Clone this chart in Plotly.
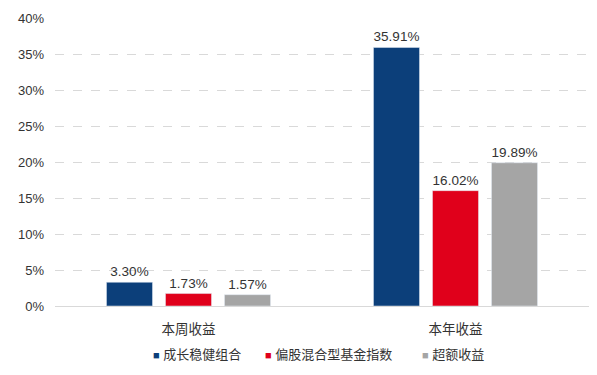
import plotly.graph_objects as go

categories = ["本周收益", "本年收益"]
series_names = ["成长稳健组合", "偏股混合型基金指数", "超额收益"]
series_values = [
    [3.30, 35.91],
    [1.73, 16.02],
    [1.57, 19.89],
]
colors = ["#0C3F7A", "#E0001B", "#A5A5A5"]
tick_vals = [0, 5, 10, 15, 20, 25, 30, 35, 40]
tick_text = [f"{v}%" for v in tick_vals]

FONT = "Liberation Sans, Noto Sans CJK SC, sans-serif"

fig = go.Figure()
for name, vals, c in zip(series_names, series_values, colors):
    fig.add_trace(go.Bar(
        name=name, x=categories, y=vals, marker_color=c,
        text=[f"{v:.2f}%" for v in vals], textposition="outside",
        textfont=dict(size=13.5, color="#333333"), cliponaxis=False,
        showlegend=False,
    ))

# legend drawn as text items (square marker + name)
legend_x = [0.179, 0.390, 0.683]
for name, c, lx in zip(series_names, colors, legend_x):
    fig.add_annotation(
        xref="paper", yref="paper", x=lx, y=-0.170, xanchor="left", yanchor="middle",
        text=f"<span style='color:{c};font-size:11px'>■</span> {name}",
        showarrow=False, font=dict(size=13, color="#333333", family=FONT),
    )

fig.update_layout(
    width=597, height=375,
    margin=dict(l=55, r=8, t=18, b=69, autoexpand=False),
    paper_bgcolor="white", plot_bgcolor="white",
    font=dict(family=FONT, size=13.5, color="#333333"),
    barmode="group", bargap=0.337, bargroupgap=0.22,
    showlegend=False,
    xaxis=dict(showline=True, linecolor="#D9D9D9", ticks="", showgrid=False,
               tickfont=dict(size=13.5), automargin=False, ticklabelstandoff=11),
    yaxis=dict(range=[0, 40], tickvals=tick_vals, ticktext=tick_text,
               showgrid=True, gridcolor="#D9D9D9", griddash="dash", zeroline=False,
               tickfont=dict(size=13), ticks="", automargin=False, ticklabelstandoff=10),
)
fig.write_html("out.html", config={"displayModeBar": False},
               post_script="document.body.style.margin='0';")
